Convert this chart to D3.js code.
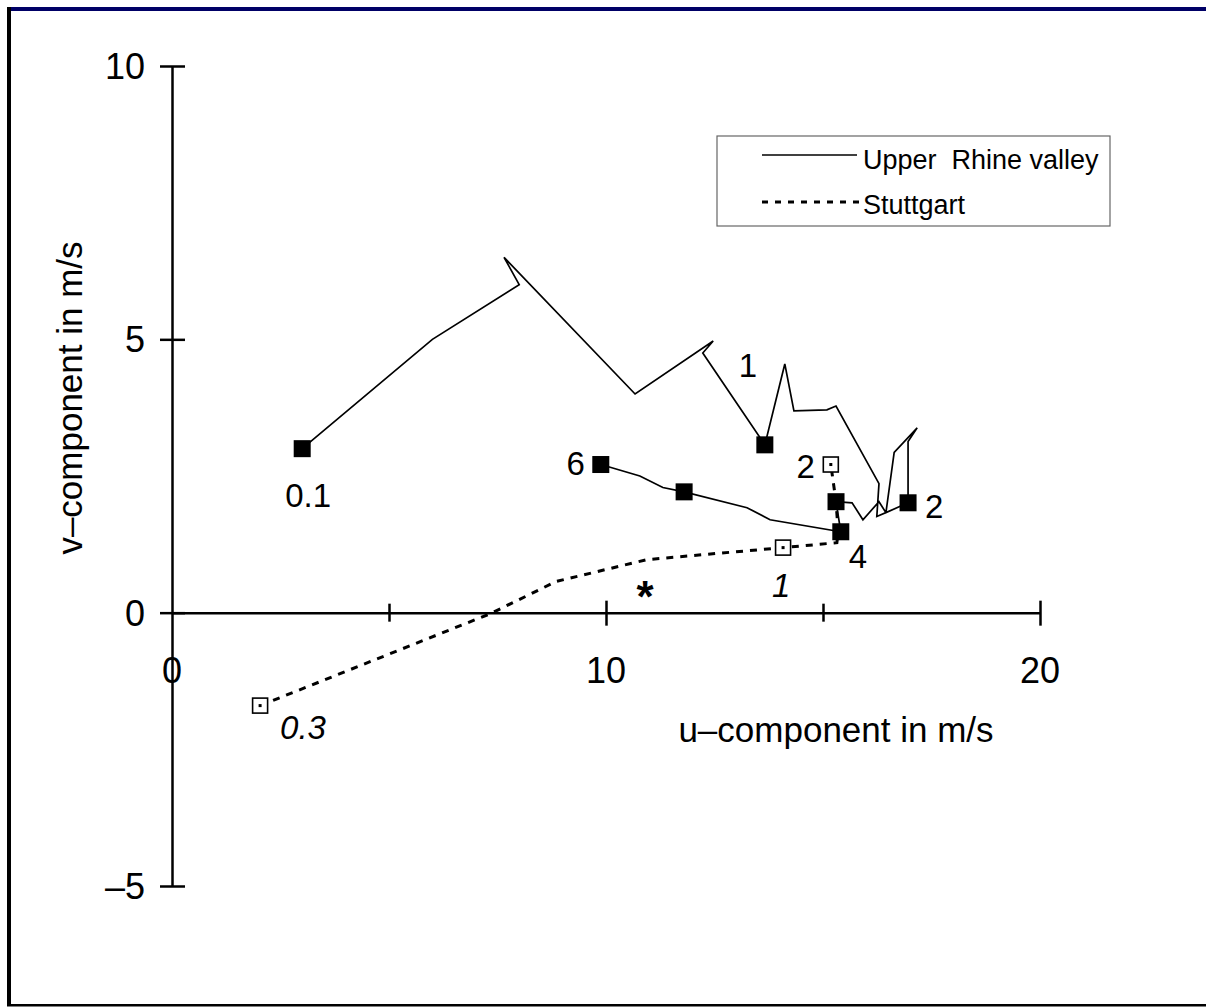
<!DOCTYPE html>
<html>
<head>
<meta charset="utf-8">
<script src="https://cdn.jsdelivr.net/npm/d3@7"></script>
<style>
  body { margin: 0; background: #fff; }
  svg text { font-family: "Liberation Sans", Arial, sans-serif; fill: #000; }
</style>
</head>
<body>
<svg id="hodo" width="1206" height="1007"></svg>
<script>
// Upper Rhine valley hodograph (u, v in m/s)
var rhineU = [3.0, 6.0, 8.0, 7.65, 10.67, 12.47, 12.23, 13.66, 14.12, 14.33, 15.09, 15.30,
              16.29, 16.24, 16.45, 16.64, 17.17, 16.96, 16.96, 16.45, 16.29, 15.92, 15.67,
              15.30, 15.41, 13.78, 13.25, 11.80, 11.31, 10.78, 9.88];
var rhineV = [3.0, 5.0, 6.0, 6.5, 4.0, 4.97, 4.75, 3.07, 4.55, 3.69, 3.71, 3.78,
              2.36, 1.76, 1.83, 2.93, 3.38, 3.13, 2.01, 1.83, 2.03, 1.70, 2.01,
              2.03, 1.48, 1.70, 1.92, 2.21, 2.29, 2.50, 2.71];
var rhineMarks = [0, 7, 18, 23, 24, 27, 30];
var rhineLabels = ["0.1", "1", "2", "", "4", "", "6"];

// Stuttgart hodograph
var stutU = [2.03, 7.33, 8.85, 10.94, 14.08, 15.32, 15.35, 15.30, 15.18];
var stutV = [-1.70, -0.02, 0.57, 0.97, 1.19, 1.28, 1.48, 2.03, 2.71];
var stutMarks = [0, 4, 8];
var stutLabels = ["0.3", "1", "2"];

var starU = 10.9, starV = 0.5;

var xTicks = [5, 10, 15, 20],
    xLabels = [0, 10, 20],
    yTicks = [10, 5, 0, -5];

var svg = d3.select("#hodo");

// frame
svg.append("rect").attr("x", 7).attr("y", 7).attr("width", 1199).attr("height", 4).attr("fill", "#000066");
svg.append("rect").attr("x", 7).attr("y", 7).attr("width", 4).attr("height", 999).attr("fill", "#000");
svg.append("rect").attr("x", 7).attr("y", 1004).attr("width", 1199).attr("height", 2.5).attr("fill", "#000");

var x = d3.scaleLinear().domain([0, 20]).range([172, 1040]),
    y = d3.scaleLinear().domain([-5, 10]).range([886, 66]);

// x axis through v = 0
var gx = svg.append("g")
    .attr("transform", "translate(0," + y(0) + ")")
    .call(d3.axisBottom(x).tickValues(xTicks).tickSizeOuter(0).tickFormat(""));
gx.select(".domain").attr("stroke-width", 2.5);
gx.selectAll(".tick line")
    .attr("stroke-width", 2.5)
    .attr("y1", function (d) { return d % 10 === 0 ? -12 : -9; })
    .attr("y2", function (d) { return d % 10 === 0 ? 13 : 9; });

svg.append("g").selectAll("text")
    .data(xLabels)
    .enter().append("text")
    .attr("x", function (d) { return x(d); })
    .attr("y", 683)
    .attr("text-anchor", "middle")
    .style("font-size", "36px")
    .text(function (d) { return d; });

// y axis through u = 0
var gy = svg.append("g")
    .attr("transform", "translate(" + x(0) + ",0)")
    .call(d3.axisLeft(y).tickValues(yTicks).tickSizeOuter(0).tickFormat(""));
gy.select(".domain").attr("stroke-width", 2.5);
gy.selectAll(".tick line")
    .attr("stroke-width", 2.5)
    .attr("x1", -12)
    .attr("x2", 13);

svg.append("g").selectAll("text")
    .data(yTicks)
    .enter().append("text")
    .attr("x", 145)
    .attr("y", function (d) { return y(d) + 13; })
    .attr("text-anchor", "end")
    .style("font-size", "36px")
    .text(function (d) { return d < 0 ? "\u2013" + (-d) : d; });

// axis titles
svg.append("text")
    .attr("x", 836).attr("y", 742)
    .attr("text-anchor", "middle")
    .style("font-size", "35px")
    .text("u\u2013component in m/s");

svg.append("text")
    .attr("transform", "translate(82,398) rotate(-90)")
    .attr("text-anchor", "middle")
    .style("font-size", "35px")
    .text("v\u2013component in m/s");

// lines
var line = d3.line()
    .x(function (d) { return x(d[0]); })
    .y(function (d) { return y(d[1]); });

var rhine = d3.zip(rhineU, rhineV),
    stut = d3.zip(stutU, stutV);

svg.append("path")
    .datum(rhine)
    .attr("d", line)
    .attr("fill", "none")
    .attr("stroke", "#000")
    .attr("stroke-width", 1.7)
    .attr("stroke-linejoin", "miter");

svg.append("path")
    .datum(stut)
    .attr("d", line)
    .attr("fill", "none")
    .attr("stroke", "#000")
    .attr("stroke-width", 3)
    .attr("stroke-dasharray", "7,7");

// markers
svg.append("g").selectAll("rect")
    .data(rhineMarks)
    .enter().append("rect")
    .attr("x", function (i) { return x(rhineU[i]) - 8.5; })
    .attr("y", function (i) { return y(rhineV[i]) - 8.5; })
    .attr("width", 17)
    .attr("height", 17)
    .attr("fill", "#000");

var sm = svg.append("g").selectAll("g")
    .data(stutMarks)
    .enter().append("g")
    .attr("transform", function (i) { return "translate(" + x(stutU[i]) + "," + y(stutV[i]) + ")"; });
sm.append("rect")
    .attr("x", -7.5).attr("y", -7.5).attr("width", 15).attr("height", 15)
    .attr("fill", "#fff").attr("stroke", "#000").attr("stroke-width", 1.6);
sm.append("rect")
    .attr("x", -1.5).attr("y", -1.5).attr("width", 3).attr("height", 3)
    .attr("fill", "#000");

// point labels (offsets from marker, anchor)
var rhinePlace = [[6, 58, "middle"], [-17, -68, "middle"], [17, 15, "start"], [0, 0, "start"],
                  [8, 36, "start"], [0, 0, "start"], [-16, 10, "end"]];
var stutPlace = [[20, 33, "start"], [-2, 49, "middle"], [-16, 13, "end"]];

svg.append("g").selectAll("text")
    .data(rhineMarks)
    .enter().append("text")
    .attr("x", function (i, k) { return x(rhineU[i]) + rhinePlace[k][0]; })
    .attr("y", function (i, k) { return y(rhineV[i]) + rhinePlace[k][1]; })
    .attr("text-anchor", function (i, k) { return rhinePlace[k][2]; })
    .style("font-size", "33px")
    .text(function (i, k) { return rhineLabels[k]; });

svg.append("g").selectAll("text")
    .data(stutMarks)
    .enter().append("text")
    .attr("x", function (i, k) { return x(stutU[i]) + stutPlace[k][0]; })
    .attr("y", function (i, k) { return y(stutV[i]) + stutPlace[k][1]; })
    .attr("text-anchor", function (i, k) { return stutPlace[k][2]; })
    .style("font-size", "33px")
    .style("font-style", function (i, k) { return k < 2 ? "italic" : "normal"; })
    .text(function (i, k) { return stutLabels[k]; });

svg.append("text")
    .attr("x", x(starU)).attr("y", y(starV) + 27)
    .attr("text-anchor", "middle")
    .style("font-size", "44px")
    .style("font-weight", "bold")
    .text("*");

// legend
var lg = svg.append("g");
lg.append("rect")
    .attr("x", 717).attr("y", 136).attr("width", 393).attr("height", 90)
    .attr("fill", "#fff").attr("stroke", "#666").attr("stroke-width", 1.2);
lg.append("line")
    .attr("x1", 762).attr("x2", 857).attr("y1", 155).attr("y2", 155)
    .attr("stroke", "#000").attr("stroke-width", 1.7);
lg.append("line")
    .attr("x1", 762).attr("x2", 862).attr("y1", 202).attr("y2", 202)
    .attr("stroke", "#000").attr("stroke-width", 3).attr("stroke-dasharray", "6,7");
lg.append("text")
    .attr("x", 863).attr("y", 169)
    .style("font-size", "27px")
    .style("white-space", "pre")
    .text("Upper  Rhine valley");
lg.append("text")
    .attr("x", 863).attr("y", 214)
    .style("font-size", "27px")
    .text("Stuttgart");
</script>
</body>
</html>
